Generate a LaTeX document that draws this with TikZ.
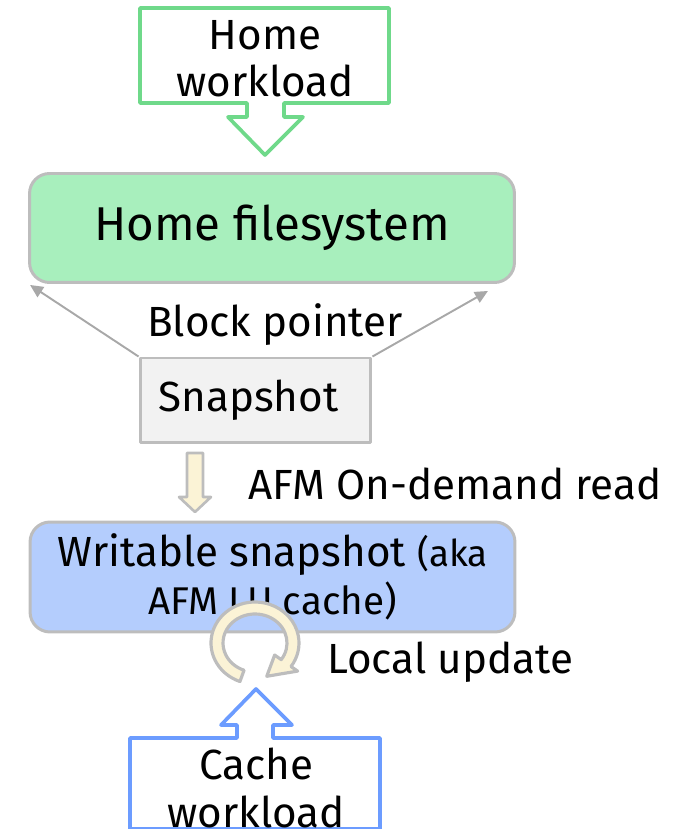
\documentclass[tikz,border=0pt]{standalone}
\usepackage{fontspec}
\setmainfont{Fira Sans}
\usetikzlibrary{arrows.meta,calc}
\definecolor{hgreen}{HTML}{6FD98A}
\definecolor{hfill}{HTML}{A8EFBD}
\definecolor{boxgray}{HTML}{BDBDBD}
\definecolor{sfill}{HTML}{F2F2F2}
\definecolor{wfill}{HTML}{B4CDFD}
\definecolor{cblue}{HTML}{6C9CFF}
\definecolor{cream}{HTML}{FBF3D6}
\definecolor{ptrgray}{HTML}{A8A8A8}

\begin{document}
\begin{tikzpicture}[x=0.02cm,y=0.02cm,line join=round,
  box/.style={draw=boxgray,line width=1.7pt,rounded corners=0.4cm,inner sep=0pt},
  txt/.style={font=\fontsize{24}{27}\selectfont,inner sep=0pt},
  ptr/.style={draw=ptrgray,line width=1.1pt,-{Triangle[length=0.26cm,width=0.24cm]}}]
\useasboundingbox (0,0) rectangle (692,829);
% ---------- home workload: box with arrow down ----------
\draw[hgreen,line width=2.1pt] (140,821) -- (389,821) -- (389,726) -- (284,726) -- (284,712)
  -- (303,712) -- (265,674) -- (228,712) -- (247,712) -- (247,726) -- (140,726) -- cycle;
\node[txt,align=center] (hwl) at (265,770) {Home\\workload};
% ---------- home filesystem ----------
\node[box,fill=hfill,minimum width=9.7cm,minimum height=2.18cm,
  font=\fontsize{27}{32}\selectfont] (homefs) at (272,601) {Home filesystem};
% ---------- snapshot + block pointers ----------
\node[box,txt,rounded corners=0pt,fill=sfill,minimum width=4.62cm,minimum height=1.7cm]
  (snap) at (255.5,428.5) {Snapshot\hspace*{0.28cm}};
\node[txt] (bp) at (275,504) {Block pointer};
\draw[ptr] (snap.north west) -- ($(homefs.south west)+(2,-1)$);
\draw[ptr] (snap.north east) -- ($(homefs.south east)+(-28,-7)$);
% ---------- on-demand read ----------
\draw[fill=cream,draw=boxgray,line width=1.5pt] (187,376) -- (203,376) -- (203,332) -- (211,332)
  -- (195,317) -- (179,332) -- (187,332) -- cycle;
\node[txt,anchor=west] (odr) at (248,345) {AFM On-demand read};
% ---------- writable snapshot ----------
\node[box,txt,fill=wfill,minimum width=9.7cm,minimum height=2.2cm,align=center]
  (wsnap) at (272.5,252) {Writable snapshot {\fontsize{21}{27}\selectfont(aka}\\
  {\fontsize{22}{27}\selectfont AFM LU cache)}};
% local update ring (drawn over the box)
\begin{scope}[shift={(255,186)}]
\filldraw[fill=cream,draw=boxgray,line width=1.8pt]
  (250:44 and 41) arc[start angle=250,end angle=-35,x radius=44,y radius=41]
  -- (-35:52 and 49) -- (-72:38 and 35) -- (-35:24 and 21)
  -- (-35:32 and 29) arc[start angle=-35,end angle=250,x radius=32,y radius=29] -- cycle;
\end{scope}
\node[txt,anchor=west] (lu) at (327,167) {Local update};
% ---------- cache workload: box with arrow up ----------
\draw[cblue,line width=2.1pt] (130,91) -- (237,91) -- (237,104) -- (221,104) -- (256,140)
  -- (292,104) -- (273,104) -- (273,91) -- (380,91) -- (380,0) -- (130,0) -- cycle;
\node[txt,align=center] (cwl) at (256,41) {Cache\\workload};
\end{tikzpicture}
\end{document}
